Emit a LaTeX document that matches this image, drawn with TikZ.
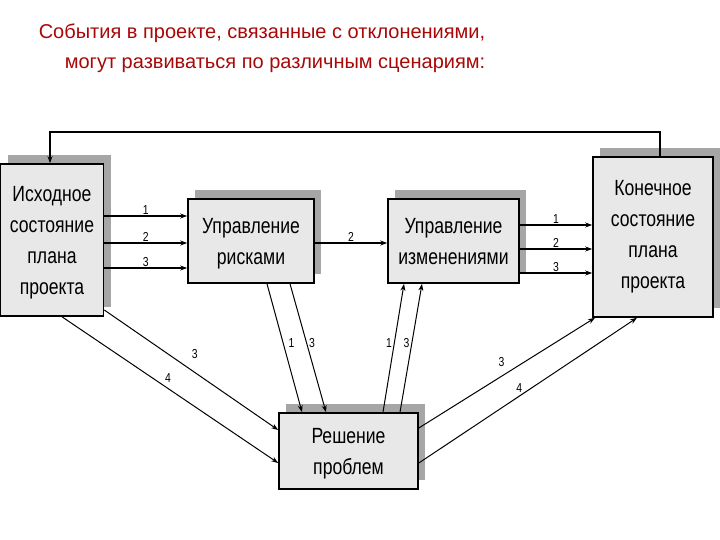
\documentclass[tikz,border=0pt]{standalone}
\usepackage{fontspec}
\setmainfont{Liberation Sans}
\newfontfamily\boxfont[FakeStretch=0.8]{Liberation Sans}
\usetikzlibrary{arrows.meta, positioning, calc, shadows}
\definecolor{titlered}{HTML}{A80808}
\definecolor{boxfill}{HTML}{E8E8E8}
\definecolor{boxshadow}{HTML}{A6A6A6}

\begin{document}
\begin{tikzpicture}[x=1pt, y=-1pt,
  block/.style={rectangle, draw=black, line width=1.6pt, fill=boxfill, align=center,
                font=\boxfont\fontsize{22}{31}\selectfont, inner sep=0pt,
                drop shadow={shadow xshift=7pt, shadow yshift=9pt, opacity=1, fill=boxshadow}},
  lower/.style={text depth=#1},
  flow/.style={-{Stealth[length=7pt, width=5pt]}, line width=1.6pt},
  link/.style={-{Stealth[length=7pt, width=5pt]}, line width=1pt},
  num/.style={font=\boxfont\fontsize{13}{14}\selectfont, inner sep=1pt},
]
  \fill[white] (0,0) rectangle (720,540);
  \useasboundingbox (0,0) rectangle (720,540);

  \node[font=\fontsize{20}{30}\selectfont, text=titlered, align=right] (title) at (262,48)
    {События в проекте, связанные с отклонениями,\\могут развиваться по различным сценариям:};

  \node[block, lower=-10pt, minimum width=103pt, minimum height=152pt] (start) at (52,240) {Исходное\\состояние\\плана\\проекта};
  \node[block, lower=-12pt, minimum width=126pt, minimum height=84pt] (risk) at (251,241) {Управление\\рисками};
  \node[block, lower=-12pt, minimum width=131pt, minimum height=84pt] (change) at (453.5,241) {Управление\\изменениями};
  \node[block, minimum width=120pt, minimum height=160pt] (final) at (653,237) {Конечное\\состояние\\плана\\проекта};
  \node[block, lower=-14pt, minimum width=139pt, minimum height=76pt] (problem) at (348.5,451) {Решение\\проблем};

  \foreach \y/\n in {216/1, 243/2, 268/3}
    \draw[flow] (start.east |- 0,\y) -- node[num, above] {\n} (risk.west |- 0,\y);
  \draw[flow] (risk.east |- 0,243) -- node[num, above] {2} (change.west |- 0,243);
  \foreach \y/\n in {225/1, 249/2, 273/3}
    \draw[flow] (change.east |- 0,\y) -- node[num, above] {\n} (final.west |- 0,\y);

  % return to the initial state
  \draw[flow] (660,0 |- final.north) -- (660,132) -| (start.north -| 50,0);

  \draw[link] (267,0 |- risk.south) -- node[num, pos=0.46, right=4pt] {1} (302,0 |- problem.north);
  \draw[link] (290,0 |- risk.south) -- node[num, pos=0.46, right=1pt] {3} (326,0 |- problem.north);
  \draw[link] (383,0 |- problem.north) -- node[num, pos=0.54, left=1pt] {1} (404,0 |- change.south);
  \draw[link] (400,0 |- problem.north) -- node[num, pos=0.54, left=1pt] {3} (422,0 |- change.south);

  \draw[link] (start.east |- 0,310) -- node[num, pos=0.52, above=12pt] {3} (problem.west |- 0,430);
  \draw[link] (62,0 |- start.south) -- node[num, pos=0.49, above=4pt] {4} (problem.west |- 0,463);
  \draw[link] (problem.east |- 0,428) -- node[num, pos=0.47, above=8pt] {3} (595,0 |- final.south);
  \draw[link] (problem.east |- 0,463) -- node[num, pos=0.46, above=2pt] {4} (637,0 |- final.south);
\end{tikzpicture}
\end{document}
